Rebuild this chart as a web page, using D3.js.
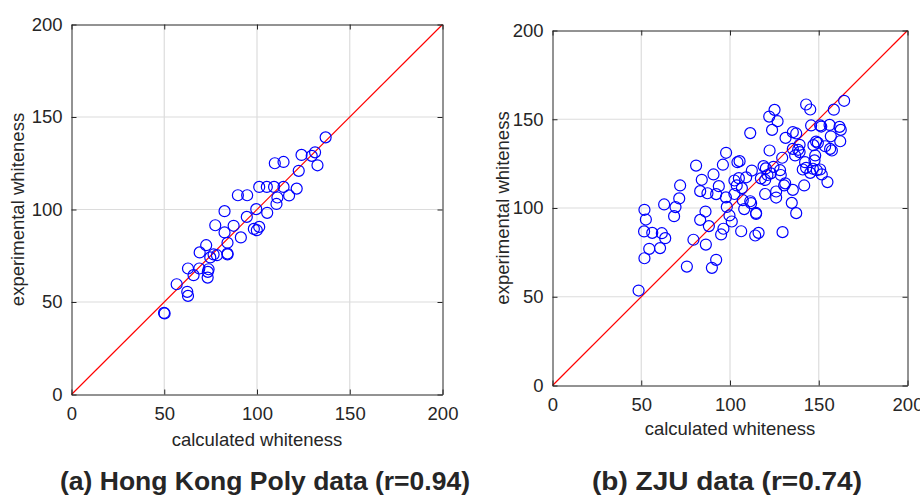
<!DOCTYPE html>
<html>
<head>
<meta charset="utf-8">
<script src="https://cdn.jsdelivr.net/npm/d3@7"></script>
<style>
  body { margin: 0; background: #fff; }
  svg text { font-family: "Liberation Sans", Arial, sans-serif; fill: #262626; }
</style>
</head>
<body>
<div id="chart"></div>
<script>
// axis ticks, both panels
const tickValues = [0, 50, 100, 150, 200];
const gridValues = [50, 100, 150];

// (a) Hong Kong Poly data: [calculated, experimental]
const polyData = [
    [137.0, 139.0], [131.3, 130.9], [129.5, 129.0], [124.0, 129.5], [132.6, 123.9],
    [122.5, 120.9], [109.6, 125.0], [114.3, 125.7], [101.2, 112.2], [105.3, 112.2],
    [109.2, 112.2], [114.3, 112.2], [121.4, 111.3], [89.7, 107.7], [94.7, 107.7],
    [111.0, 106.5], [117.3, 107.6], [110.5, 103.0], [99.6, 100.2], [82.5, 99.1],
    [105.5, 98.2], [94.5, 96.0], [77.5, 91.5], [87.4, 91.2], [82.5, 87.6],
    [98.3, 89.5], [99.9, 88.8], [101.2, 90.6], [91.3, 84.9], [84.1, 82.0],
    [72.6, 80.7], [69.1, 76.8], [76.6, 75.7], [78.4, 75.3], [84.1, 76.2],
    [84.1, 75.7], [74.8, 74.1], [62.8, 68.1], [68.9, 68.1], [73.9, 67.7],
    [73.5, 66.3], [65.8, 64.5], [73.4, 63.2], [56.7, 59.6], [62.4, 55.5],
    [62.8, 53.3], [49.9, 44.1], [50.2, 43.8]
];

// (b) ZJU data: [calculated, experimental]
const zjuData = [
    [164.3, 160.4], [142.9, 158.3], [145.2, 155.5], [125.1, 155.3], [122.1, 151.5],
    [126.8, 148.9], [158.5, 155.4], [145.7, 146.5], [150.8, 146.5], [151.4, 145.9],
    [156.1, 146.8], [161.7, 145.7], [162.4, 144.0], [123.7, 144.0], [111.4, 142.2],
    [135.4, 142.7], [137.3, 142.0], [131.3, 139.5], [156.8, 140.4], [162.1, 137.6],
    [148.5, 137.4], [149.5, 136.7], [147.0, 135.4], [153.6, 134.8], [156.4, 133.3],
    [157.4, 132.4], [139.2, 135.6], [135.4, 133.3], [138.4, 132.8], [136.7, 129.6],
    [139.2, 131.5], [122.3, 132.4], [129.4, 128.3], [148.0, 129.6], [147.6, 126.8],
    [142.3, 125.8], [97.8, 131.1], [96.0, 124.4], [104.2, 125.8], [105.4, 126.4],
    [80.9, 123.9], [90.7, 118.9], [84.1, 115.9], [71.9, 112.7], [83.2, 109.5],
    [87.3, 108.3], [93.7, 112.3], [92.2, 107.8], [97.7, 106.0], [71.4, 105.4],
    [62.9, 102.0], [69.3, 100.5], [51.8, 99.0], [86.2, 98.0], [98.2, 100.6],
    [102.5, 115.5], [105.0, 116.8], [109.1, 117.3], [112.3, 121.1], [118.9, 123.6],
    [120.2, 122.3], [117.4, 116.7], [119.8, 115.8], [121.1, 118.6], [123.0, 119.5],
    [124.5, 123.2], [128.2, 121.3], [128.6, 118.6], [131.1, 113.9], [130.5, 112.7],
    [126.0, 109.3], [126.0, 105.9], [119.8, 107.9], [103.8, 112.7], [106.7, 111.2],
    [102.5, 107.9], [107.2, 104.4], [111.4, 103.8], [108.0, 99.4], [114.7, 97.2],
    [135.4, 110.2], [134.8, 102.9], [137.3, 97.1], [141.8, 112.7], [141.0, 121.7],
    [145.2, 119.8], [146.7, 122.1], [148.9, 121.3], [150.8, 121.7], [151.7, 118.9],
    [154.9, 114.6], [142.9, 122.6],
    [52.6, 93.5], [51.6, 86.8], [56.2, 86.0], [61.6, 85.8], [63.5, 83.0],
    [54.5, 77.0], [60.6, 77.4], [51.8, 71.7], [48.5, 53.5], [68.5, 95.4],
    [83.2, 93.3], [88.1, 89.8], [79.4, 82.1], [86.4, 79.4], [92.2, 70.8],
    [89.8, 66.3], [75.7, 67.0], [96.3, 88.3], [95.0, 85.1], [99.7, 95.8],
    [101.0, 92.4], [106.3, 86.9], [111.9, 102.7], [114.7, 96.7], [114.2, 84.5],
    [116.1, 86.0], [129.6, 86.4]
];

const titles = ["(a) Hong Kong Poly data (r=0.94)", "(b) ZJU data (r=0.74)"];

const width = 920,
    height = 496;

const svg = d3
    .select("#chart")
    .append("svg")
    .attr("width", width)
    .attr("height", height);

function panel(data, box, title) {
    const x = d3.scaleLinear().domain([0, 200]).range([box.left, box.right]);
    const y = d3.scaleLinear().domain([0, 200]).range([box.bottom, box.top]);
    const g = svg.append("g");

    // grid
    g.selectAll(".gx")
        .data(gridValues)
        .enter()
        .append("line")
        .attr("x1", (d) => x(d))
        .attr("x2", (d) => x(d))
        .attr("y1", y(0))
        .attr("y2", y(200))
        .attr("stroke", "#dcdcdc")
        .attr("stroke-width", 1.2);
    g.selectAll(".gy")
        .data(gridValues)
        .enter()
        .append("line")
        .attr("y1", (d) => y(d))
        .attr("y2", (d) => y(d))
        .attr("x1", x(0))
        .attr("x2", x(200))
        .attr("stroke", "#dcdcdc")
        .attr("stroke-width", 1.2);

    // y = x reference line
    g.append("line")
        .attr("x1", x(0))
        .attr("y1", y(0))
        .attr("x2", x(200))
        .attr("y2", y(200))
        .attr("stroke", "#ff0000")
        .attr("stroke-width", 1.2);

    // points
    g.selectAll("circle")
        .data(data)
        .enter()
        .append("circle")
        .attr("cx", (d) => x(d[0]))
        .attr("cy", (d) => y(d[1]))
        .attr("r", 5.5)
        .attr("fill", "none")
        .attr("stroke", "#0000ff")
        .attr("stroke-width", 1.2);

    // axes, ticks inward on all four sides
    const axes = [
        [d3.axisBottom(x), "translate(0," + y(0) + ")", 12],
        [d3.axisLeft(y), "translate(" + x(0) + ",0)", 9],
        [d3.axisTop(x), "translate(0," + y(200) + ")", 0],
        [d3.axisRight(y), "translate(" + x(200) + ",0)", 0],
    ];
    axes.forEach(([axis, tr, pad]) => {
        axis.tickValues(tickValues).tickSizeInner(-5).tickSizeOuter(0);
        if (pad) axis.tickPadding(pad);
        else axis.tickFormat("");
        const a = g.append("g").attr("transform", tr).call(axis);
        a.selectAll("path, line").attr("stroke", "#262626");
        a.selectAll("text")
            .attr("font-size", "18.5px")
            .attr("font-family", null)
            .attr("fill", "#262626");
    });

    // axis labels
    g.append("text")
        .attr("x", (box.left + box.right) / 2)
        .attr("y", box.xLabelY)
        .attr("text-anchor", "middle")
        .attr("font-size", "18.5px")
        .text("calculated whiteness");
    g.append("text")
        .attr("transform", "translate(" + box.yLabelX + "," + (box.top + box.bottom) / 2 + ") rotate(-90)")
        .attr("text-anchor", "middle")
        .attr("font-size", "18.5px")
        .text("experimental whiteness");

    // panel caption
    g.append("text")
        .attr("x", box.titleX)
        .attr("y", 490)
        .attr("text-anchor", "middle")
        .attr("font-size", "26.5px")
        .attr("font-weight", "bold")
        .attr("fill", "#000")
        .attr("textLength", box.titleW)
        .attr("lengthAdjust", "spacingAndGlyphs")
        .text(title);
}

panel(polyData, { left: 71.5, right: 442.5, top: 24.5, bottom: 394.5, xLabelY: 446, yLabelX: 24, titleX: 265, titleW: 410 }, titles[0]);
panel(zjuData, { left: 552.5, right: 907.5, top: 30.5, bottom: 385.5, xLabelY: 435, yLabelX: 509, titleX: 727, titleW: 270 }, titles[1]);
</script>
</body>
</html>
